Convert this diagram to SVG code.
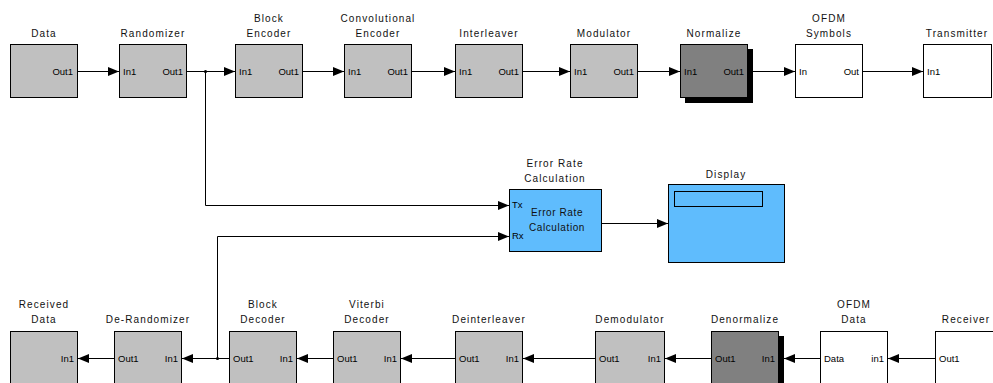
<svg xmlns="http://www.w3.org/2000/svg" width="993" height="383" viewBox="0 0 993 383">
  <style>
    .blk { stroke: #000; stroke-width: 1; }
    .gray { fill: #c0c0c0; }
    .dark { fill: #808080; }
    .white { fill: #ffffff; }
    .blue { fill: #5fbcfd; }
    .shadow { fill: #000; }
    .lbl { font-family: "Liberation Sans", Arial, sans-serif; font-size: 10px; letter-spacing: 1.1px; fill: #111; text-anchor: middle; }
    .port { font-family: "Liberation Sans", Arial, sans-serif; font-size: 9.5px; fill: #000; }
    .pr { text-anchor: end; }
    .inner { font-family: "Liberation Sans", Arial, sans-serif; font-size: 10px; letter-spacing: 0.6px; fill: #111; text-anchor: middle; }
    .wire { fill: none; stroke: #000; stroke-width: 1; }
  </style>
  <defs>
    <marker id="arrow" markerUnits="userSpaceOnUse" markerWidth="11" markerHeight="9" refX="11" refY="4.5" orient="auto">
      <path d="M0,0 L11,4.5 L0,9 z" fill="#000"/>
    </marker>
  </defs>
  <rect width="993" height="383" fill="#fff"/>

  <!-- transmit chain -->
  <g id="data">
    <rect class="blk gray" x="10.5" y="44.5" width="67" height="53"/>
    <text class="lbl" x="44" y="37">Data</text>
    <text class="port pr" x="73" y="75">Out1</text>
  </g>
  <g id="randomizer">
    <rect class="blk gray" x="119.5" y="44.5" width="67" height="53"/>
    <text class="lbl" x="153" y="37">Randomizer</text>
    <text class="port" x="123" y="75">In1</text>
    <text class="port pr" x="183" y="75">Out1</text>
  </g>
  <g id="block-encoder">
    <rect class="blk gray" x="235.5" y="44.5" width="67" height="53"/>
    <text class="lbl" x="269" y="22">Block</text>
    <text class="lbl" x="269" y="37">Encoder</text>
    <text class="port" x="239" y="75">In1</text>
    <text class="port pr" x="299" y="75">Out1</text>
  </g>
  <g id="convolutional-encoder">
    <rect class="blk gray" x="344.5" y="44.5" width="67" height="53"/>
    <text class="lbl" x="378" y="22">Convolutional</text>
    <text class="lbl" x="378" y="37">Encoder</text>
    <text class="port" x="348" y="75">In1</text>
    <text class="port pr" x="408" y="75">Out1</text>
  </g>
  <g id="interleaver">
    <rect class="blk gray" x="455.5" y="44.5" width="67" height="53"/>
    <text class="lbl" x="489" y="37">Interleaver</text>
    <text class="port" x="459" y="75">In1</text>
    <text class="port pr" x="519" y="75">Out1</text>
  </g>
  <g id="modulator">
    <rect class="blk gray" x="570.5" y="44.5" width="67" height="53"/>
    <text class="lbl" x="604" y="37">Modulator</text>
    <text class="port" x="574" y="75">In1</text>
    <text class="port pr" x="634" y="75">Out1</text>
  </g>
  <g id="normalize">
    <rect class="shadow" x="685" y="49" width="68" height="54"/>
    <rect class="blk dark" x="680.5" y="44.5" width="67" height="53"/>
    <text class="lbl" x="714" y="37">Normalize</text>
    <text class="port" x="684" y="75">In1</text>
    <text class="port pr" x="744" y="75">Out1</text>
  </g>
  <g id="ofdm-symbols">
    <rect class="blk white" x="795.5" y="44.5" width="67" height="53"/>
    <text class="lbl" x="829" y="22">OFDM</text>
    <text class="lbl" x="829" y="37">Symbols</text>
    <text class="port" x="799" y="75">In</text>
    <text class="port pr" x="859" y="75">Out</text>
  </g>
  <g id="transmitter">
    <rect class="blk white" x="923.5" y="44.5" width="68" height="53"/>
    <text class="lbl" x="957" y="37">Transmitter</text>
    <text class="port" x="927" y="75">In1</text>
  </g>

  <!-- error measurement -->
  <g id="error-rate-calculation">
    <rect class="blk blue" x="509.5" y="189.5" width="92" height="62"/>
    <text class="lbl" x="555" y="167">Error Rate</text>
    <text class="lbl" x="555" y="182">Calculation</text>
    <text class="port" x="512" y="208">Tx</text>
    <text class="port" x="512" y="239">Rx</text>
    <text class="inner" x="557" y="216">Error Rate</text>
    <text class="inner" x="557" y="231">Calculation</text>
  </g>
  <g id="display">
    <rect class="blk blue" x="668.5" y="184.5" width="116" height="78"/>
    <rect class="blk blue" x="674.5" y="191.5" width="88" height="15"/>
    <text class="lbl" x="726" y="178">Display</text>
  </g>

  <!-- receive chain -->
  <g id="received-data">
    <rect class="blk gray" x="10.5" y="331.5" width="67" height="53"/>
    <text class="lbl" x="44" y="308">Received</text>
    <text class="lbl" x="44" y="323">Data</text>
    <text class="port pr" x="74" y="362">In1</text>
  </g>
  <g id="de-randomizer">
    <rect class="blk gray" x="114.5" y="331.5" width="67" height="53"/>
    <text class="lbl" x="148" y="323">De-Randomizer</text>
    <text class="port" x="118" y="362">Out1</text>
    <text class="port pr" x="178" y="362">In1</text>
  </g>
  <g id="block-decoder">
    <rect class="blk gray" x="229.5" y="331.5" width="67" height="53"/>
    <text class="lbl" x="263" y="308">Block</text>
    <text class="lbl" x="263" y="323">Decoder</text>
    <text class="port" x="233" y="362">Out1</text>
    <text class="port pr" x="293" y="362">In1</text>
  </g>
  <g id="viterbi-decoder">
    <rect class="blk gray" x="333.5" y="331.5" width="67" height="53"/>
    <text class="lbl" x="367" y="308">Viterbi</text>
    <text class="lbl" x="367" y="323">Decoder</text>
    <text class="port" x="337" y="362">Out1</text>
    <text class="port pr" x="397" y="362">In1</text>
  </g>
  <g id="deinterleaver">
    <rect class="blk gray" x="455.5" y="331.5" width="67" height="53"/>
    <text class="lbl" x="489" y="323">Deinterleaver</text>
    <text class="port" x="459" y="362">Out1</text>
    <text class="port pr" x="519" y="362">In1</text>
  </g>
  <g id="demodulator">
    <rect class="blk gray" x="595.5" y="331.5" width="69" height="53"/>
    <text class="lbl" x="630" y="323">Demodulator</text>
    <text class="port" x="599" y="362">Out1</text>
    <text class="port pr" x="661" y="362">In1</text>
  </g>
  <g id="denormalize">
    <rect class="shadow" x="716" y="336" width="68" height="54"/>
    <rect class="blk dark" x="711.5" y="331.5" width="67" height="53"/>
    <text class="lbl" x="745" y="323">Denormalize</text>
    <text class="port" x="715" y="362">Out1</text>
    <text class="port pr" x="775" y="362">In1</text>
  </g>
  <g id="ofdm-data">
    <rect class="blk white" x="820.5" y="331.5" width="67" height="53"/>
    <text class="lbl" x="854" y="308">OFDM</text>
    <text class="lbl" x="854" y="323">Data</text>
    <text class="port" x="824" y="362">Data</text>
    <text class="port pr" x="884" y="362">in1</text>
  </g>
  <g id="receiver">
    <rect class="blk white" x="935.5" y="331.5" width="68" height="53"/>
    <text class="lbl" x="966" y="323">Receiver</text>
    <text class="port" x="939" y="362">Out1</text>
  </g>

  <!-- signal lines -->
  <g id="connectors">
    <line class="wire" x1="78" y1="71.5" x2="119" y2="71.5" marker-end="url(#arrow)"/>
    <line class="wire" x1="187" y1="71.5" x2="235" y2="71.5" marker-end="url(#arrow)"/>
    <circle cx="205.5" cy="71.5" r="1.6" fill="#000"/>
    <polyline class="wire" points="205.5,71.5 205.5,205.5 509,205.5" marker-end="url(#arrow)"/>
    <line class="wire" x1="303" y1="71.5" x2="344" y2="71.5" marker-end="url(#arrow)"/>
    <line class="wire" x1="412" y1="71.5" x2="455" y2="71.5" marker-end="url(#arrow)"/>
    <line class="wire" x1="523" y1="71.5" x2="570" y2="71.5" marker-end="url(#arrow)"/>
    <line class="wire" x1="638" y1="71.5" x2="680" y2="71.5" marker-end="url(#arrow)"/>
    <line class="wire" x1="753" y1="71.5" x2="795" y2="71.5" marker-end="url(#arrow)"/>
    <line class="wire" x1="863" y1="71.5" x2="923" y2="71.5" marker-end="url(#arrow)"/>
    <line class="wire" x1="602" y1="223.5" x2="668" y2="223.5" marker-end="url(#arrow)"/>

    <line class="wire" x1="935" y1="358.5" x2="888" y2="358.5" marker-end="url(#arrow)"/>
    <line class="wire" x1="820" y1="358.5" x2="784" y2="358.5" marker-end="url(#arrow)"/>
    <line class="wire" x1="711" y1="358.5" x2="665" y2="358.5" marker-end="url(#arrow)"/>
    <line class="wire" x1="595" y1="358.5" x2="523" y2="358.5" marker-end="url(#arrow)"/>
    <line class="wire" x1="455" y1="358.5" x2="401" y2="358.5" marker-end="url(#arrow)"/>
    <line class="wire" x1="333" y1="358.5" x2="297" y2="358.5" marker-end="url(#arrow)"/>
    <line class="wire" x1="229" y1="358.5" x2="182" y2="358.5" marker-end="url(#arrow)"/>
    <circle cx="217.5" cy="358.5" r="1.6" fill="#000"/>
    <polyline class="wire" points="217.5,358.5 217.5,236.5 509,236.5" marker-end="url(#arrow)"/>
    <line class="wire" x1="114" y1="358.5" x2="78" y2="358.5" marker-end="url(#arrow)"/>
  </g>
</svg>
